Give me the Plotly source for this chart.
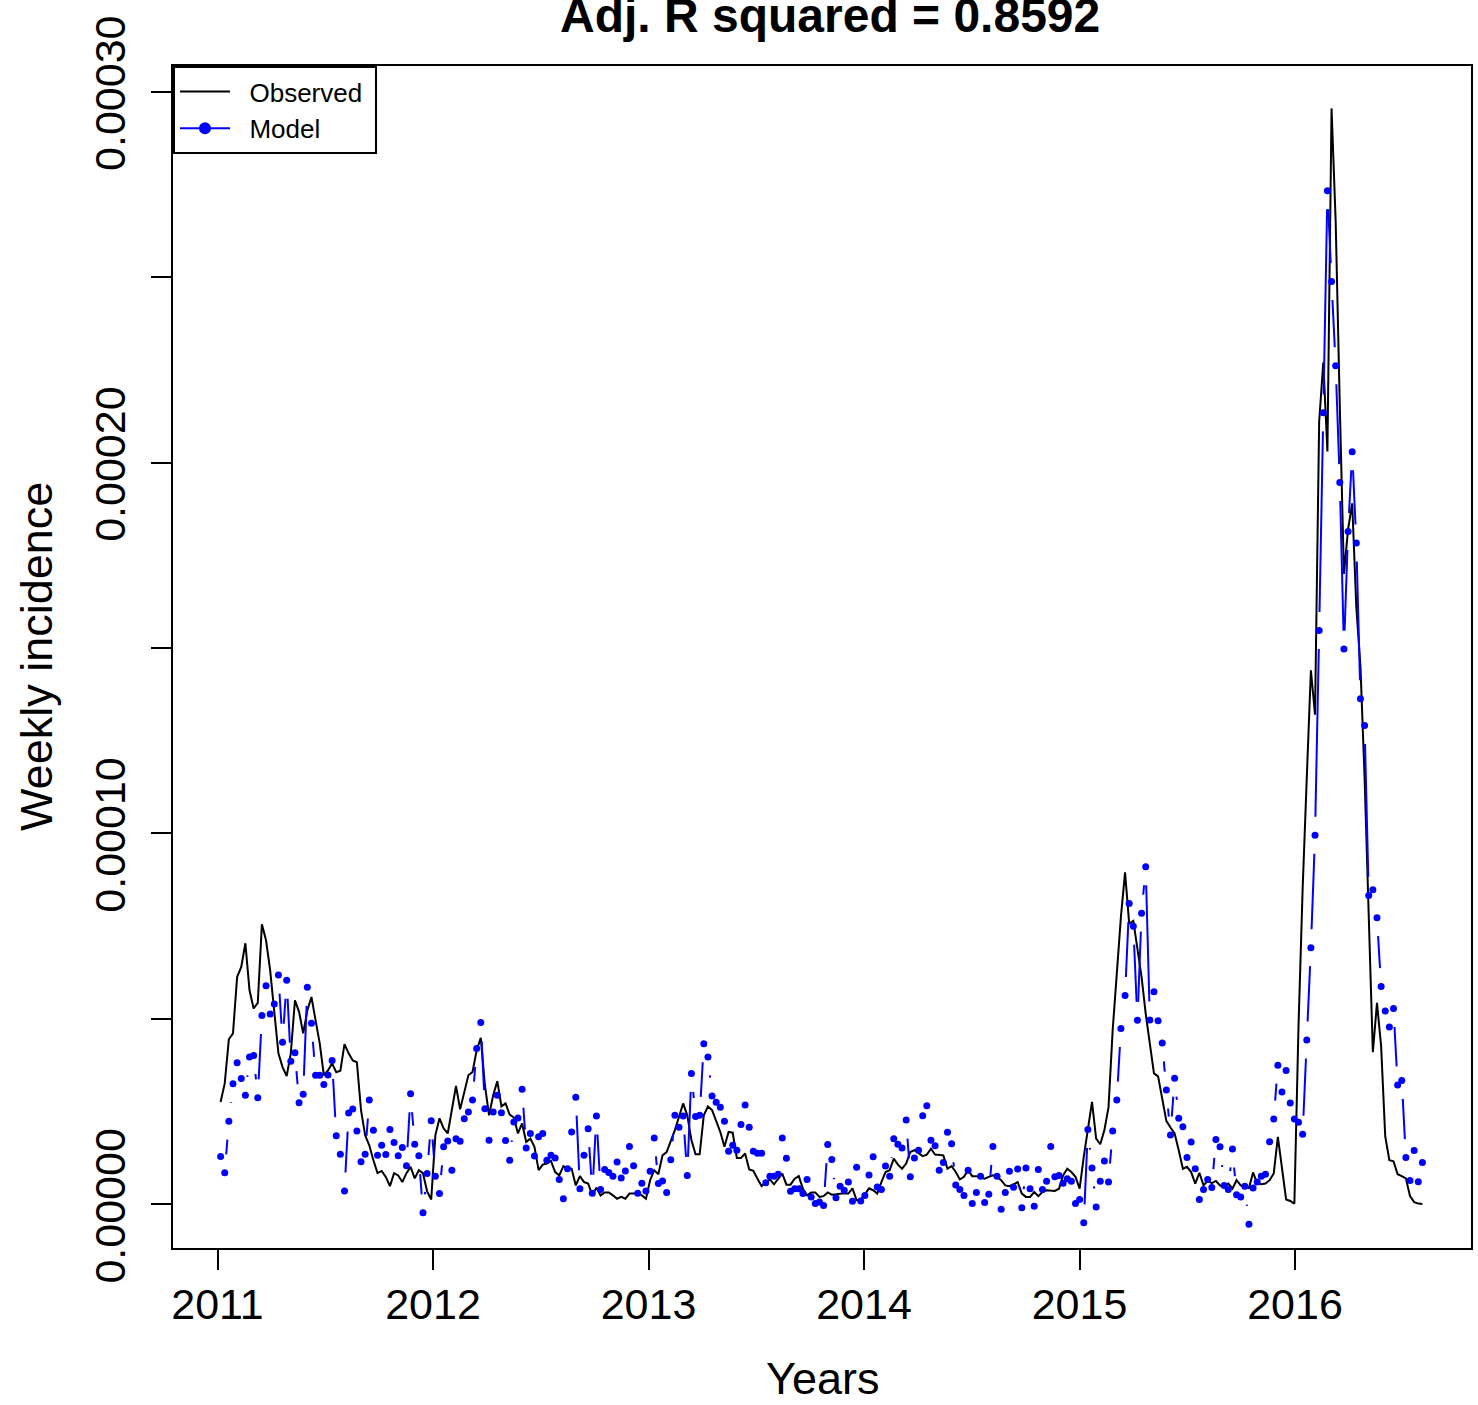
import math
import numpy as np
import plotly.graph_objects as go

# ---------------- data (units of 1e-5, weekly from 2011) ----------------
observed_e5 = [
    2.76, 3.26, 4.45, 4.61, 6.13, 6.40, 7.04, 5.77, 5.28, 5.43,
    7.55, 7.12, 6.31, 5.23, 4.07, 3.70, 3.46, 4.07, 5.50, 5.19,
    4.61, 5.23, 5.59, 4.96, 4.34, 3.48, 3.61, 3.80, 3.56, 3.60,
    4.32, 4.07, 3.88, 3.83, 2.54, 1.86, 1.59, 1.19, 0.84, 0.90,
    0.74, 0.49, 0.84, 0.78, 0.60, 0.84, 1.01, 0.70, 0.92, 0.84,
    0.35,
    0.13, 1.86, 2.32, 2.05, 1.91, 2.54, 3.19, 2.56, 2.99, 3.48,
    3.57, 4.15, 4.49, 3.21, 2.40, 2.94, 3.32, 2.64, 2.72, 2.42,
    2.34, 1.91, 2.18, 1.68, 1.77, 1.55, 0.92, 1.07, 1.10, 1.17,
    0.87, 0.78, 1.03, 0.96, 0.96, 0.51, 0.76, 0.60, 0.56, 0.24,
    0.45, 0.24, 0.32, 0.32, 0.24, 0.15, 0.20, 0.15, 0.29, 0.30,
    0.29, 0.24, 0.15,
    0.65, 0.92, 0.81, 1.32, 1.41, 1.68, 2.00, 2.36, 2.72, 2.40,
    1.73, 1.35, 1.35, 2.40, 2.64, 2.54, 2.27, 1.95, 1.55, 1.95,
    1.93, 1.25, 1.25, 1.37, 0.94, 0.90, 0.69, 0.49, 0.60, 0.67,
    0.54, 0.67, 0.83, 0.53, 0.53, 0.69, 0.76, 0.42, 0.24, 0.32,
    0.32, 0.20, 0.22, 0.32, 0.26, 0.27, 0.29, 0.30, 0.29, 0.43,
    0.11, 0.13, 0.27, 0.43,
    0.38, 0.29, 0.60, 0.87, 0.92, 1.23, 1.07, 0.96, 1.10, 1.41,
    1.46, 1.37, 1.30, 1.34, 1.50, 1.34, 1.34, 1.32, 0.96, 1.03,
    0.87, 0.67, 0.74, 0.92, 0.76, 0.76, 0.72, 0.69, 0.74, 0.78,
    0.74, 0.65, 0.51, 0.49, 0.54, 0.60, 0.29, 0.20, 0.20, 0.33,
    0.22, 0.33, 0.38, 0.38, 0.36, 0.42, 0.78, 0.96, 0.87, 0.74,
    0.42, 1.28,
    2.00, 2.76, 1.77, 1.62, 2.00, 2.62, 4.69, 6.22, 7.75, 8.95,
    7.57, 7.64, 6.94, 6.13, 5.14, 4.34, 3.53, 3.45, 2.81, 2.25,
    2.07, 1.91, 1.46, 0.96, 1.01, 0.87, 0.56, 0.85, 0.51, 0.63,
    0.57, 0.63, 0.51, 0.45, 0.56, 0.42, 0.65, 0.51, 0.47, 0.44,
    0.86, 0.56, 0.54, 0.56, 0.65, 0.83, 1.82, 0.96, 0.13, 0.09,
    0.02,
    4.8, 8.5, 11.5, 14.4, 13.2, 21.1, 22.7, 20.3, 29.55, 26.5,
    21.5, 17.0, 18.2, 18.9, 16.1, 14.5, 11.5, 7.5, 4.10, 5.43,
    4.27, 1.83, 1.19, 1.16, 0.81, 0.76, 0.70, 0.22, 0.06, 0.02,
    0.01,
]

model_e5 = [
    1.29, 0.85, 2.24, 3.25, 3.82, 3.39, 2.94, 3.97, 4.01, 2.87,
    5.09, 5.89, 5.13, 5.40, 6.18, 4.37, 6.04, 3.86, 4.09, 2.74,
    2.97, 5.85, 4.88, 3.48, 3.48, 3.23, 3.49, 3.88, 1.85, 1.35,
    0.36, 2.46, 2.57, 1.98, 1.15, 1.35, 2.81, 2.00, 1.32, 1.59,
    1.34, 2.02, 1.67, 1.31, 1.53, 1.04, 2.98, 1.62, 1.31, -0.23,
    0.83,
    2.25, 0.76, 0.29, 1.55, 1.71, 0.92, 1.77, 1.70, 2.31, 2.49,
    2.81, 4.20, 4.90, 2.58, 1.73, 2.49, 2.94, 2.47, 1.72, 1.19,
    2.22, 2.33, 3.10, 1.52, 1.91, 1.30, 1.82, 1.91, 1.19, 1.32,
    1.25, 0.67, 0.15, 0.96, 1.95, 2.89, 0.42, 1.32, 2.04, 0.30,
    2.38, 0.40, 0.94, 0.86, 0.76, 1.14, 0.71, 0.90, 1.56, 1.04,
    0.30, 0.57, 0.36,
    0.89, 1.79, 0.56, 0.63, 0.32, 1.20, 2.40, 2.08, 2.38, 0.78,
    3.53, 2.37, 2.40, 4.33, 3.97, 2.92, 2.75, 2.62, 2.24, 1.43,
    1.59, 1.46, 2.15, 2.68, 2.08, 1.43, 1.38, 1.38, 0.58, 0.76,
    0.76, 0.81, 1.79, 1.24, 0.35, 0.42, 0.42, 0.29, 0.67, 0.20,
    0.02, 0.06, -0.03, 1.61, 1.21, 0.18, 0.49, 0.38, 0.60, 0.08,
    1.00, 0.09, 0.24, 0.79,
    1.28, 0.47, 0.40, 1.03, 0.76, 1.77, 1.62, 1.52, 2.27, 0.74,
    1.25, 1.46, 2.39, 2.66, 1.73, 1.58, 0.92, 1.13, 1.94, 1.63,
    0.52, 0.40, 0.24, 0.92, 0.02, 0.32, 0.76, 0.05, 0.27, 1.56,
    0.76, -0.13, 0.32, 0.89, 0.46, 0.95, -0.09, 0.98, 0.42, -0.05,
    0.94, 0.40, 0.62, 1.56, 0.74, 0.78, 0.57, 0.69, 0.62, 0.02,
    0.13, -0.50,
    2.02, 0.98, -0.07, 0.62, 1.17, 0.60, 1.98, 2.81, 4.74, 5.63,
    8.11, 7.50, 4.96, 7.85, 9.10, 4.97, 5.73, 4.95, 4.35, 3.08,
    1.87, 3.40, 2.32, 2.09, 1.26, 1.68, 0.96, 0.13, 0.40, 0.67,
    0.45, 1.75, 1.55, 0.51, 0.40, 1.49, 0.26, 0.20, 0.49, -0.54,
    0.44, 0.60, 0.76, 0.81, 1.69, 2.30, 3.75, 3.03, 3.61, 2.73,
    2.30,
    2.21, 1.89, 4.43, 6.92, 9.95, 15.47, 21.34, 27.33, 24.88, 22.61,
    19.46, 14.97, 18.14, 20.29, 17.83, 13.63, 12.91, 8.33, 8.48, 7.73,
    5.87, 5.21, 4.78, 5.28, 3.22, 3.34, 1.26, 0.64, 1.45, 0.61,
    1.13,
]

year_ticks = [2011, 2012, 2013, 2014, 2015, 2016]
y_tickvals = [0, 5e-5, 1e-4, 1.5e-4, 2e-4, 2.5e-4, 3e-4]
y_ticktext = ["0.00000", "", "0.00010", "", "0.00020", "", "0.00030"]
title_text = "Adj. R squared = 0.8592"
legend_names = ["Observed", "Model"]
x_title = "Years"
y_title = "Weekly incidence"

# ---------------- derived series ----------------
n = len(observed_e5)
weeks = np.arange(n)
years = 2011 + (weeks + 0.75) / 52.18
obs = np.array(observed_e5) * 1e-5
mod = np.array(model_e5[:n]) * 1e-5

# ---------------- layout geometry ----------------
FIG_W, FIG_H = 1478, 1405
ML, MR, MT, MB = 173, 7, 66, 157
XR = [2010.7935, 2016.8167]
YR = [-1.178e-5, 3.0693e-4]
FONT = "Liberation Sans, Arial, Helvetica, sans-serif"

# R type="b": line segments with a gap around each point
plot_w = FIG_W - ML - MR
plot_h = FIG_H - MT - MB
sx = plot_w / (XR[1] - XR[0])
sy = plot_h / (YR[1] - YR[0])
GAP = 18.5
seg_x, seg_y = [], []
for k in range(n - 1):
    x0, y0, x1, y1 = years[k], mod[k], years[k + 1], mod[k + 1]
    d = math.hypot((x1 - x0) * sx, (y1 - y0) * sy)
    if d > 2 * GAP:
        f = GAP / d
        seg_x += [x0 + f * (x1 - x0), x1 - f * (x1 - x0), None]
        seg_y += [y0 + f * (y1 - y0), y1 - f * (y1 - y0), None]

fig = go.Figure()
fig.add_trace(go.Scatter(x=years, y=obs, mode="lines",
                         line=dict(color="black", width=2),
                         showlegend=False, hoverinfo="skip"))
fig.add_trace(go.Scatter(x=seg_x, y=seg_y, mode="lines",
                         line=dict(color="#0000ff", width=2),
                         connectgaps=False, showlegend=False, hoverinfo="skip"))
fig.add_trace(go.Scatter(x=years, y=mod, mode="markers",
                         marker=dict(color="#0000ff", size=7),
                         showlegend=False, hoverinfo="skip"))
# legend entries
NB = "\u00a0"
fig.add_trace(go.Scatter(x=[None], y=[None], mode="lines",
                         name=NB * 2 + legend_names[0] + NB,
                         line=dict(color="black", width=2)))
fig.add_trace(go.Scatter(x=[None], y=[None], mode="lines+markers",
                         name=NB * 2 + legend_names[1] + NB,
                         line=dict(color="#0000ff", width=2),
                         marker=dict(color="#0000ff", size=12)))

axis_common = dict(
    showgrid=False, zeroline=False, showline=True, mirror=True,
    linecolor="black", linewidth=2, ticks="outside", ticklen=20,
    tickwidth=2, tickcolor="black", automargin=False,
    tickfont=dict(family=FONT, size=43, color="black"),
)

fig.update_layout(
    width=FIG_W, height=FIG_H,
    margin=dict(l=ML, r=MR, t=MT, b=MB, pad=0, autoexpand=False),
    paper_bgcolor="white", plot_bgcolor="white",
    font=dict(family=FONT, color="black"),
    xaxis=dict(range=XR, tickvals=year_ticks,
               ticktext=[str(y) for y in year_ticks],
               ticklabelstandoff=-3, **axis_common),
    yaxis=dict(range=YR, tickvals=y_tickvals, ticktext=y_ticktext,
               tickangle=-90, ticklabelstandoff=9, ticklabelshift=8,
               **axis_common),
    legend=dict(x=0, y=1, xanchor="left", yanchor="top",
                bgcolor="white", bordercolor="black", borderwidth=2,
                font=dict(family=FONT, size=26, color="black"),
                itemwidth=50, tracegroupgap=0),
    annotations=[
        dict(text="<b>" + title_text + "</b>", xref="paper", yref="paper",
             x=0.5065, y=1.0425, xanchor="center", yanchor="middle",
             showarrow=False, font=dict(family=FONT, size=48, color="black")),
        dict(text=x_title, xref="paper", yref="paper", x=0.5, y=-0.11,
             xanchor="center", yanchor="middle", showarrow=False,
             font=dict(family=FONT, size=45, color="black")),
        dict(text=y_title, xref="paper", yref="paper",
             x=-0.1055, y=0.5, xanchor="center", yanchor="middle",
             textangle=-90, showarrow=False,
             font=dict(family=FONT, size=45, color="black")),
    ],
)

# remove the page's default 8px body margin so the figure fills the window
fig.write_html("out.html",
               config={"displayModeBar": False},
               post_script="document.body.style.margin='0px';"
                           "document.body.style.overflow='hidden';")
